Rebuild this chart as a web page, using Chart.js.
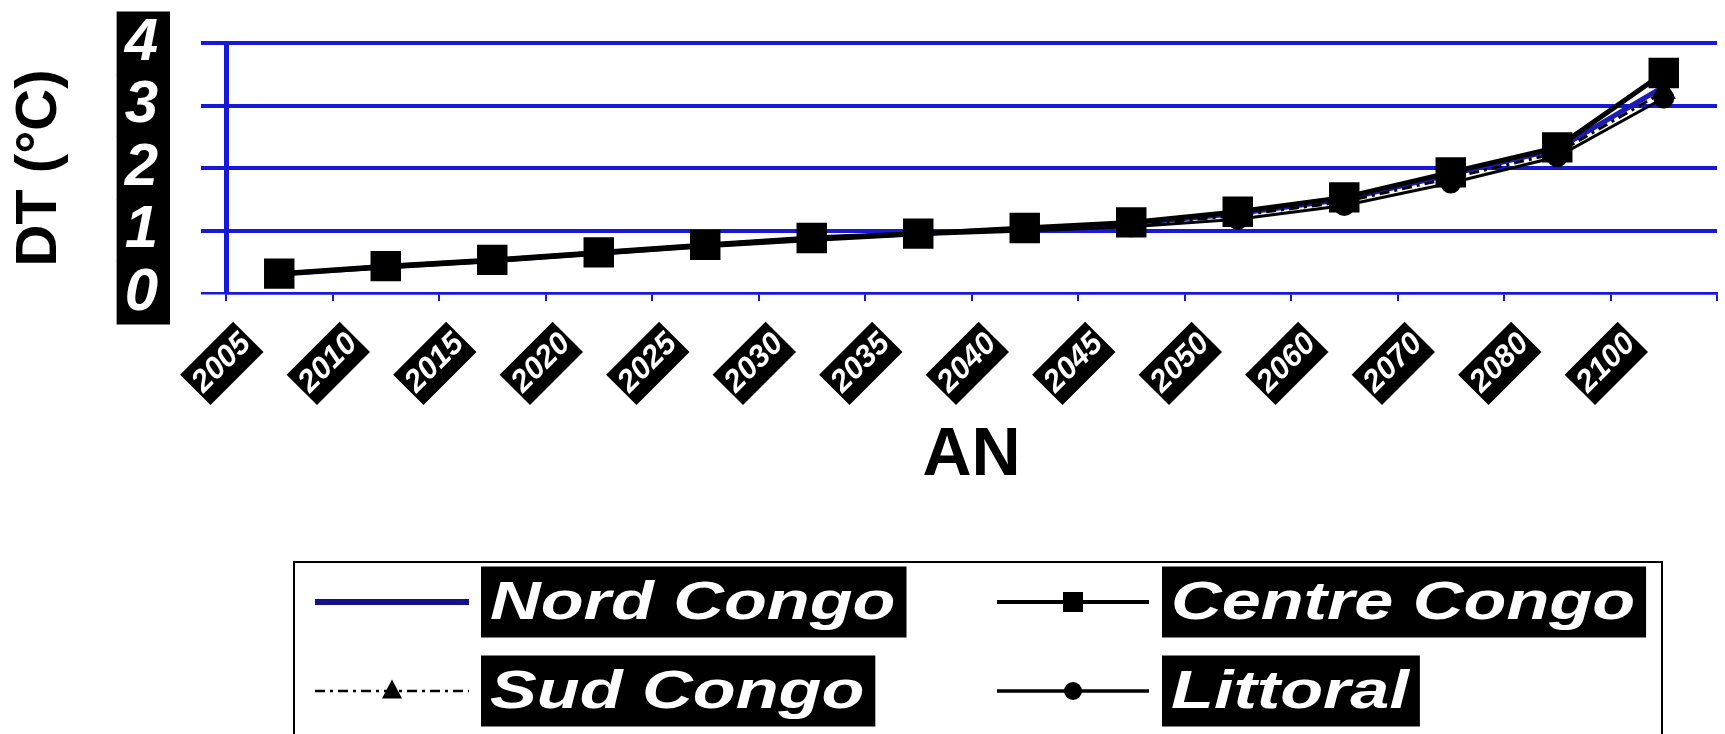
<!DOCTYPE html>
<html>
<head>
<meta charset="utf-8">
<script src="https://cdn.jsdelivr.net/npm/chart.js@4/dist/chart.umd.min.js"></script>
<style>
  html, body { margin: 0; padding: 0; background: #ffffff; overflow: hidden; }
  #wrap { width: 1725px; height: 734px; overflow: hidden; }
  canvas { display: block; }
</style>
</head>
<body>
<div id="wrap"><canvas id="dt" width="1740" height="734"></canvas></div>
<script>
// Périodes (axe AN)
const years = ['2005', '2010', '2015', '2020', '2025', '2030', '2035', '2040', '2045', '2050', '2060', '2070', '2080', '2100'];

// Écart de température DT (°C) par région
const nordCongo   = [0.30, 0.42, 0.52, 0.64, 0.76, 0.87, 0.95, 1.03, 1.11, 1.27, 1.50, 1.90, 2.30, 3.30];
const centreCongo = [0.31, 0.43, 0.53, 0.65, 0.77, 0.88, 0.95, 1.04, 1.13, 1.30, 1.53, 1.93, 2.33, 3.52];
const sudCongo    = [0.30, 0.41, 0.51, 0.63, 0.75, 0.86, 0.94, 1.01, 1.09, 1.24, 1.46, 1.84, 2.24, 3.22];
const littoral    = [0.29, 0.40, 0.50, 0.62, 0.74, 0.84, 0.93, 0.99, 1.06, 1.18, 1.40, 1.76, 2.18, 3.12];

// Graduations de l'axe DT
const yTicks = [0, 1, 2, 3, 4];

const FONT = '"Liberation Sans", Arial, sans-serif';
const AXIS_BLUE = '#1818d8';

// Legend layout: one slot per dataset (sample line span, label box start, row centre)
const legendSlots = [
  { x0: 315, x1: 469, box: 481, cy: 602 },
  { x0: 997, x1: 1149, box: 1162, cy: 602 },
  { x0: 315, x1: 469, box: 481, cy: 691 },
  { x0: 997, x1: 1149, box: 1162, cy: 691 }
];

function drawMarker(ctx, style, r, x, y, color) {
  ctx.save();
  ctx.fillStyle = color;
  ctx.beginPath();
  if (style === 'rect') {
    ctx.rect(x - r, y - r, 2 * r, 2 * r);
  } else if (style === 'triangle') {
    ctx.moveTo(x, y - r * 1.15);
    ctx.lineTo(x + r, y + r * 0.75);
    ctx.lineTo(x - r, y + r * 0.75);
    ctx.closePath();
  } else if (style === 'circle') {
    ctx.arc(x, y, r, 0, Math.PI * 2);
  }
  ctx.fill();
  ctx.restore();
}

const boxLegend = {
  id: 'boxLegend',
  afterDraw(chart) {
    const ctx = chart.ctx;
    ctx.save();
    ctx.strokeStyle = '#000';
    ctx.lineWidth = 2;
    ctx.strokeRect(294, 562, 1368, 220);

    chart.data.datasets.forEach((ds, i) => {
      const s = legendSlots[i];
      // sample line
      ctx.save();
      ctx.strokeStyle = ds.legendColor || ds.borderColor;
      ctx.lineWidth = ds.legendLineWidth;
      ctx.setLineDash(ds.borderDash || []);
      ctx.beginPath();
      ctx.moveTo(s.x0, s.cy);
      ctx.lineTo(s.x1, s.cy);
      ctx.stroke();
      ctx.restore();
      if (ds.pointRadius > 0) {
        drawMarker(ctx, ds.pointStyle, ds.legendMarker, (s.x0 + s.x1) / 2, s.cy, ds.pointBackgroundColor);
      }
      // label on black band
      ctx.font = 'italic bold 54px ' + FONT;
      const stretch = 1.3;
      const w = ctx.measureText(ds.label).width * stretch;
      ctx.fillStyle = '#000';
      ctx.fillRect(s.box, s.cy - 35.5, w + 20, 71);
      ctx.save();
      ctx.translate(s.box + 9, s.cy + 2);
      ctx.scale(stretch, 1);
      ctx.fillStyle = '#fff';
      ctx.textBaseline = 'middle';
      ctx.textAlign = 'left';
      ctx.fillText(ds.label, 0, 0);
      ctx.restore();
    });
    ctx.restore();
  }
};

new Chart(document.getElementById('dt'), {
  type: 'line',
  data: {
    labels: years,
    datasets: [
      {
        label: 'Nord Congo', data: nordCongo,
        borderColor: '#1c1cb4', legendColor: '#12128c', borderWidth: 5, legendLineWidth: 6,
        pointRadius: 0, pointStyle: 'circle', pointBackgroundColor: '#1c1cb4',
        tension: 0, order: 3
      },
      {
        label: 'Centre Congo', data: centreCongo,
        borderColor: '#000', borderWidth: 5, legendLineWidth: 4,
        pointStyle: 'rect', pointRadius: 18, pointBackgroundColor: '#000', pointBorderColor: '#000',
        legendMarker: 10, tension: 0, order: 0
      },
      {
        label: 'Sud Congo', data: sudCongo,
        borderColor: '#000', borderWidth: 3, borderDash: [10, 5, 3, 5], legendLineWidth: 2.5,
        pointStyle: 'triangle', pointRadius: 11, pointBackgroundColor: '#000', pointBorderColor: '#000',
        legendMarker: 10, tension: 0, order: 2
      },
      {
        label: 'Littoral', data: littoral,
        borderColor: '#000', borderWidth: 3, legendLineWidth: 3.5,
        pointStyle: 'circle', pointRadius: 9, pointBackgroundColor: '#000', pointBorderColor: '#000',
        legendMarker: 9, tension: 0, order: 1
      }
    ]
  },
  options: {
    responsive: false,
    animation: false,
    devicePixelRatio: 1,
    layout: { padding: { top: 43, left: 0, right: 7, bottom: 237 } },
    plugins: { legend: { display: false }, tooltip: { enabled: false } },
    scales: {
      x: {
        type: 'category',
        offset: true,
        afterFit: (s) => { s.height = 204; },
        grid: {
          display: true, drawOnChartArea: false, drawTicks: true,
          tickLength: 8, color: AXIS_BLUE, lineWidth: 2, offset: true
        },
        border: { display: true, color: AXIS_BLUE, width: 2.5 },
        ticks: {
          autoSkip: false, minRotation: 45, maxRotation: 45,
          color: '#fff',
          font: { family: FONT, size: 31, weight: 'bold', style: 'italic', lineHeight: 1.0 },
          showLabelBackdrop: true, backdropColor: '#000',
          backdropPadding: { top: 6, bottom: 6, left: 3, right: 3 },
          padding: 27, labelOffset: -44
        },
        title: {
          display: true, text: 'AN', color: '#000',
          font: { family: FONT, size: 68, weight: 'bold', lineHeight: 1.2 },
          padding: 0
        }
      },
      y: {
        min: 0, max: 4,
        afterFit: (s) => { s.width = 226; s.paddingTop = 0; s.paddingBottom = 0; },
        afterBuildTicks: (s) => { s.ticks = yTicks.map(v => ({ value: v })); },
        grid: {
          color: AXIS_BLUE,
          lineWidth: (c) => (c.tick && c.tick.value === 0 ? 2.5 : 4),
          tickLength: 25, drawTicks: true
        },
        border: { display: true, color: AXIS_BLUE, width: 5 },
        ticks: {
          autoSkip: false,
          color: '#fff',
          font: { family: FONT, size: 60, weight: 'bold', style: 'italic', lineHeight: 1.0 },
          showLabelBackdrop: true, backdropColor: '#000',
          backdropPadding: { top: 1.5, bottom: 1.5, left: 8, right: 12 },
          padding: 43
        },
        title: {
          display: true, text: 'DT (°C)', color: '#000',
          font: { family: FONT, size: 58, weight: 'bold', lineHeight: 1.2 },
          padding: { top: 5, bottom: 0 }
        }
      }
    }
  },
  plugins: [boxLegend]
});
</script>
</body>
</html>
